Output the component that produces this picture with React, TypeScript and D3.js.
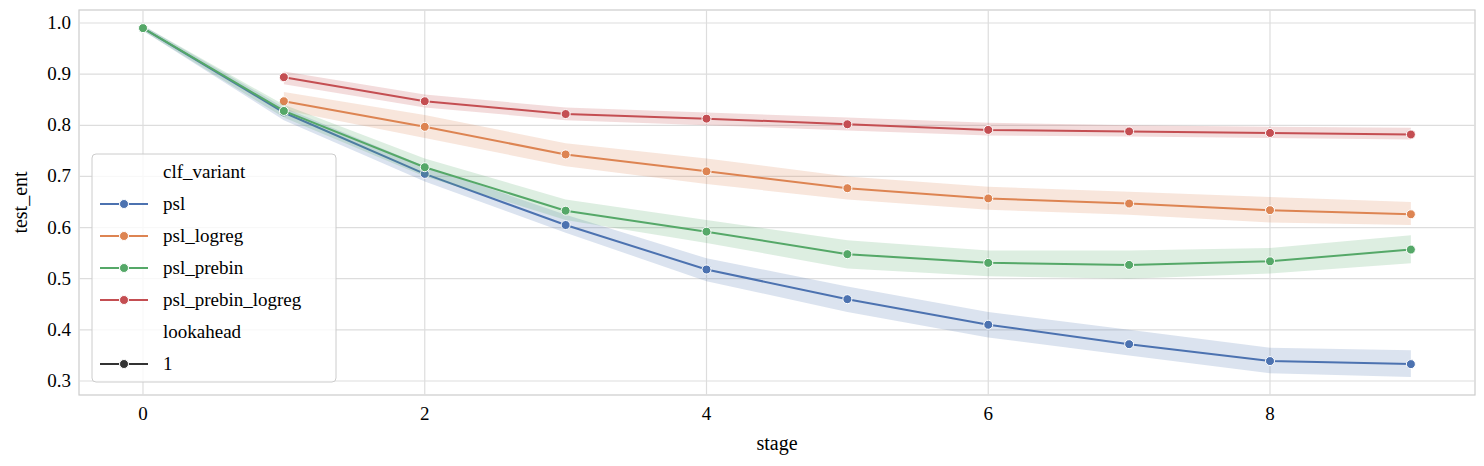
import React from 'react';
import * as d3 from 'd3';

const seriesNames = ['psl', 'psl_logreg', 'psl_prebin', 'psl_prebin_logreg'];
const colors = ['#4c72b0', '#dd8452', '#55a868', '#c44e52'];
const stages = [
  [0, 1, 2, 3, 4, 5, 6, 7, 8, 9],
  [1, 2, 3, 4, 5, 6, 7, 8, 9],
  [0, 1, 2, 3, 4, 5, 6, 7, 8, 9],
  [1, 2, 3, 4, 5, 6, 7, 8, 9],
];
const means = [
  [0.99, 0.825, 0.705, 0.605, 0.518, 0.46, 0.41, 0.372, 0.339, 0.333],
  [0.847, 0.797, 0.743, 0.71, 0.677, 0.657, 0.647, 0.634, 0.626],
  [0.99, 0.828, 0.718, 0.633, 0.592, 0.548, 0.531, 0.527, 0.534, 0.557],
  [0.894, 0.847, 0.822, 0.813, 0.802, 0.791, 0.788, 0.785, 0.782],
];
const lows = [
  [0.985, 0.81, 0.69, 0.59, 0.495, 0.435, 0.385, 0.35, 0.315, 0.308],
  [0.83, 0.775, 0.72, 0.685, 0.655, 0.635, 0.625, 0.61, 0.605],
  [0.985, 0.815, 0.7, 0.615, 0.57, 0.52, 0.505, 0.5, 0.51, 0.53],
  [0.88, 0.835, 0.81, 0.8, 0.79, 0.78, 0.778, 0.775, 0.772],
];
const highs = [
  [0.995, 0.835, 0.72, 0.625, 0.54, 0.485, 0.435, 0.4, 0.365, 0.36],
  [0.865, 0.82, 0.765, 0.735, 0.7, 0.68, 0.67, 0.66, 0.65],
  [0.995, 0.84, 0.735, 0.655, 0.615, 0.575, 0.555, 0.555, 0.56, 0.585],
  [0.905, 0.86, 0.835, 0.825, 0.815, 0.805, 0.8, 0.797, 0.795],
];
const xTicks = [0, 2, 4, 6, 8];
const yTicks = [0.3, 0.4, 0.5, 0.6, 0.7, 0.8, 0.9, 1.0];

export default function App() {
  const W = 1484, H = 466;
  const L = 79, R = 1475, T = 10, B = 395;
  const x = d3.scaleLinear().domain([0, 8]).range([143, 1270]);
  const y = d3.scaleLinear().domain([0.3, 1.0]).range([381, 23]);
  const font = '"Liberation Serif", "DejaVu Serif", serif';
  const line = d3.line<number[]>().x(d => x(d[0])).y(d => y(d[1]));
  const area = d3.area<number[]>().x(d => x(d[0])).y0(d => y(d[1])).y1(d => y(d[2]));
  const legendItems: { label: string; color?: string; marker: boolean }[] = [
    { label: 'clf_variant', marker: false },
    ...seriesNames.map((s, i) => ({ label: s, color: colors[i], marker: true })),
    { label: 'lookahead', marker: false },
    { label: '1', color: '#333', marker: true },
  ];
  return (
    <svg width={W} height={H} style={{ position: 'absolute', left: 0, top: 0 }} fontFamily={font}>
      <rect x={L} y={T} width={R - L} height={B - T} fill="white" stroke="#ccc" strokeWidth={1.2} />
      {xTicks.map(t => (
        <g key={t}>
          <line x1={x(t)} x2={x(t)} y1={T} y2={B} stroke="#ddd" strokeWidth={1.2} />
          <text x={x(t)} y={B + 25} textAnchor="middle" fontSize={19}>{t}</text>
        </g>
      ))}
      {yTicks.map(t => (
        <g key={t}>
          <line x1={L} x2={R} y1={y(t)} y2={y(t)} stroke="#ddd" strokeWidth={1.2} />
          <text x={L - 8} y={y(t) + 6} textAnchor="end" fontSize={19}>{t.toFixed(1)}</text>
        </g>
      ))}
      <text x={(L + R) / 2} y={450} textAnchor="middle" fontSize={20}>stage</text>
      <text transform={`translate(27,${(T + B) / 2}) rotate(-90)`} textAnchor="middle" fontSize={20}>test_ent</text>
      {seriesNames.map((s, i) => {
        const pts = stages[i].map((st, j) => [st, means[i][j]]);
        const band = stages[i].map((st, j) => [st, lows[i][j], highs[i][j]]);
        return (
          <g key={s}>
            <path d={area(band) || ''} fill={colors[i]} opacity={0.2} />
            <path d={line(pts) || ''} fill="none" stroke={colors[i]} strokeWidth={2} />
            {pts.map((p, j) => (
              <circle key={j} cx={x(p[0])} cy={y(p[1])} r={4.5} fill={colors[i]} stroke="white" strokeWidth={1} />
            ))}
          </g>
        );
      })}
      <rect x={92} y={154} width={244} height={228} rx={4} fill="white" fillOpacity={0.8} stroke="#ccc" />
      {legendItems.map((it, i) => {
        const cy = 172 + i * 32;
        return (
          <g key={it.label}>
            {it.marker && (
              <g>
                <line x1={100} x2={148} y1={cy} y2={cy} stroke={it.color} strokeWidth={2} />
                <circle cx={124} cy={cy} r={4.5} fill={it.color} stroke="white" />
              </g>
            )}
            <text x={it.marker ? 163 : 163} y={cy + 6} fontSize={19}>{it.label}</text>
          </g>
        );
      })}
    </svg>
  );
}
